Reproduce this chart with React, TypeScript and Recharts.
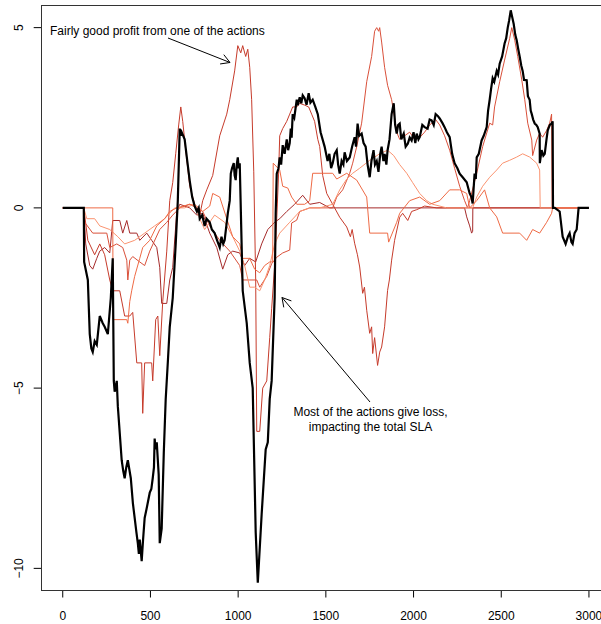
import React from "react";
import { LineChart, Line, XAxis, YAxis } from "recharts";

const X_TICKS = [0, 500, 1000, 1500, 2000, 2500, 3000];
const Y_TICKS = [-10, -5, 0, 5];

// total SLA (black)
const TOTAL: [number, number][] = [
  [0, 0], [120, 0], [122, -1.5], [143, -2.0], [154, -3.5], [163, -3.9], [171, -4.0], [182, -3.7], [194, -3.8],
  [211, -3.0], [228, -3.2], [239, -3.3], [257, -3.5], [274, -2.5], [285, -1.4], [291, -4.8], [296, -5.1],
  [308, -4.8], [314, -5.5], [336, -7.0], [345, -7.3], [353, -7.5], [362, -7.2], [371, -7.0], [388, -7.5],
  [400, -8.2], [410, -8.6], [420, -9.0], [428, -9.3], [434, -9.6], [439, -9.2], [450, -9.8], [458, -9.2],
  [467, -8.6], [480, -8.3], [496, -7.9], [505, -7.8], [513, -7.5], [520, -7.2], [524, -6.4], [530, -6.7],
  [536, -6.5], [547, -7.4], [553, -9.3], [564, -8.9], [576, -6.8], [587, -5.3], [600, -4.2], [610, -3.3],
  [627, -2.5], [644, -1.0], [656, 0.2], [667, 2.2], [673, 2.0], [678, 2.1], [695, 1.9], [710, 1.3],
  [724, 0.75], [738, 0.3], [752, 0.05], [765, -0.1], [775, 0.0], [781, -0.3], [795, -0.2], [809, -0.5],
  [820, -0.3], [838, -0.4], [850, -0.6], [866, -0.7], [880, -0.9], [895, -1.1], [905, -0.8], [915, -1.0],
  [923, -0.9], [941, -0.15], [952, 0.2], [958, 0.95], [965, 1.1], [975, 1.24], [980, 0.9], [986, 0.77],
  [992, 1.2], [998, 1.4], [1003, 1.1], [1009, 1.24], [1026, -2.3], [1049, -3.2], [1066, -4.3], [1083, -5.0],
  [1100, -9.0], [1112, -10.4], [1134, -8.5], [1157, -6.7], [1169, -6.5], [1180, -5.3], [1191, -4.8],
  [1208, -2.5], [1214, -0.15], [1220, 0.95], [1230, 1.1], [1237, 1.4], [1245, 1.2], [1254, 1.74],
  [1265, 1.5], [1277, 1.9], [1285, 1.6], [1294, 1.8], [1300, 2.2], [1305, 1.95], [1311, 2.6], [1320, 2.5],
  [1334, 3.0], [1340, 2.85], [1351, 3.07], [1360, 2.9], [1368, 3.12], [1379, 3.04], [1390, 2.86],
  [1402, 3.18], [1412, 2.92], [1425, 3.0], [1440, 2.8], [1454, 2.6], [1470, 2.1], [1493, 1.7],
  [1510, 1.3], [1520, 1.5], [1530, 1.1], [1539, 1.24], [1550, 1.5], [1562, 1.6], [1570, 1.2],
  [1579, 0.95], [1590, 1.3], [1600, 1.2], [1607, 1.54], [1620, 1.3], [1636, 1.4], [1650, 1.7],
  [1664, 1.96], [1672, 1.7], [1681, 2.34], [1690, 2.0], [1704, 2.06], [1715, 1.8], [1727, 1.7],
  [1738, 1.2], [1750, 0.85], [1760, 1.3], [1772, 1.6], [1780, 1.2], [1790, 1.3], [1800, 1.0],
  [1810, 1.5], [1818, 1.7], [1828, 1.3], [1835, 1.5], [1845, 1.2], [1852, 1.6], [1863, 1.9],
  [1875, 2.6], [1887, 2.9], [1895, 2.3], [1904, 2.06], [1912, 2.3], [1921, 2.34], [1930, 1.9],
  [1944, 2.06], [1955, 1.7], [1967, 1.78], [1978, 1.95], [1989, 1.87], [2000, 2.1], [2010, 1.8],
  [2018, 2.06], [2028, 1.9], [2035, 1.96], [2050, 2.3], [2063, 2.24], [2080, 2.2], [2092, 2.45],
  [2103, 2.43], [2115, 2.3], [2126, 2.6], [2138, 2.55], [2149, 2.48], [2165, 2.35], [2177, 2.24],
  [2190, 2.1], [2206, 1.96], [2220, 1.5], [2234, 1.24], [2250, 1.1], [2263, 0.95], [2280, 0.85],
  [2303, 0.71], [2320, 0.4], [2330, 0.3], [2337, 0.12], [2342, 0.5], [2348, 0.95], [2355, 0.8],
  [2360, 1.4], [2372, 1.5], [2388, 1.87], [2400, 2.0], [2417, 2.24], [2425, 2.7], [2434, 3.0],
  [2442, 3.3], [2451, 3.6], [2460, 3.5], [2474, 3.8], [2482, 3.7], [2491, 4.0], [2505, 4.2],
  [2519, 4.56], [2528, 4.7], [2537, 5.0], [2545, 5.2], [2554, 5.48], [2562, 5.3], [2571, 5.1],
  [2580, 4.8], [2588, 4.65], [2597, 4.4], [2605, 4.2], [2614, 3.95], [2622, 3.8], [2630, 3.55],
  [2645, 3.54], [2652, 3.1], [2662, 3.0], [2668, 2.7], [2674, 2.6], [2682, 2.45], [2691, 2.34],
  [2700, 2.3], [2708, 2.24], [2719, 2.06], [2720, 1.24], [2730, 1.6], [2740, 1.45], [2748, 1.5],
  [2758, 1.9], [2765, 2.15], [2777, 2.3], [2787, 2.34], [2793, 2.4], [2795, 0], [2805, 0], [2833, -0.1],
  [2850, -0.8], [2867, -1.0], [2880, -0.8], [2890, -0.7], [2900, -0.95], [2907, -1.0], [2918, -0.7],
  [2930, -0.6], [2941, 0], [3000, 0],
];

// individual actions
const ACTION_1: [number, number][] = [
  [0, 0], [120, 0], [131, -1.0], [154, -1.6], [171, -1.7], [194, -1.4], [211, -1.2], [239, -1.1],
  [268, -1.25], [285, -0.35], [325, -0.35], [342, -0.7], [365, -0.35], [382, -0.7], [422, -0.7],
  [439, -0.9], [479, -0.7], [507, -0.9], [536, -1.1], [553, -1.65], [564, -2.65], [593, -2.65],
  [610, -2.0], [627, -1.65], [650, -0.1], [667, 0.1], [724, 0], [764, -0.2], [798, -0.15], [838, -0.7],
  [878, -1.1], [912, -1.7], [941, -1.3], [969, -1.2], [1009, -1.25], [1037, -1.6], [1066, -1.4],
  [1100, -1.5], [1134, -1.0], [1169, -0.6], [1208, -0.4], [1237, -0.3], [1277, -0.1], [1322, 0.1],
  [1368, 0.35], [1408, 0.1], [1465, 0.15], [1522, 0], [2291, 0], [2303, -0.25], [2320, -0.5],
  [2331, -0.7], [2337, -0.65], [2338, 0], [3000, 0],
];

const ACTION_2: [number, number][] = [
  [0, 0], [120, 0], [143, -0.9], [182, -1.3], [211, -1.0], [239, -1.3], [268, -2.0], [285, -2.3],
  [325, -2.3], [353, -3.0], [382, -3.0], [399, -2.9], [422, -4.3], [450, -4.3], [456, -5.7], [467, -4.3],
  [507, -4.3], [513, -4.8], [530, -3.1], [542, -3.0], [553, -4.1], [570, -2.6], [593, -1.2], [610, 0.2],
  [627, 0.7], [644, 1.5], [661, 2.3], [673, 2.8], [684, 2.4], [701, 1.6], [724, 0.6], [752, 0.1],
  [781, -0.2], [798, 0.2], [821, 0.5], [855, 0.9], [895, 2.0], [935, 2.6], [952, 3.0], [980, 3.8],
  [998, 4.5], [1015, 4.3], [1026, 4.5], [1043, 4.2], [1055, 4.4], [1066, 3.9], [1077, 3.0], [1089, 1.0],
  [1100, -2.0], [1106, -6.2], [1123, -6.2], [1140, -5.0], [1163, -4.8], [1180, -3.6], [1191, -2.8],
  [1208, -1.6], [1220, -0.3], [1231, 1.0], [1237, 2.0], [1254, 2.2], [1277, 2.4], [1294, 2.6],
  [1311, 2.8], [1334, 2.8], [1351, 2.9], [1379, 2.85], [1402, 2.8], [1419, 2.6], [1436, 2.4],
  [1454, 1.9], [1465, 1.7], [1482, 0.9], [1505, 0.4], [1550, 0], [1579, -0.26], [1619, -0.53],
  [1640, -0.8], [1650, -0.6], [1664, -0.98], [1680, -1.3], [1693, -1.64], [1710, -2.37], [1720, -2.2],
  [1733, -2.84], [1750, -3.48], [1761, -3.3], [1767, -4.04], [1778, -3.6], [1795, -4.37], [1807, -4.0],
  [1818, -3.86], [1835, -3.3], [1852, -2.29], [1862, -2.0], [1875, -1.45], [1892, -0.9], [1921, -0.26],
  [1938, -0.15], [1967, -0.35], [1989, -0.1], [2018, -0.05], [2063, 0.05], [2132, 0], [3000, 0],
];

const ACTION_3: [number, number][] = [
  [0, 0], [120, 0], [125, -0.4], [171, -0.7], [251, -0.7], [268, -1.1], [308, -1.0], [342, -1.1],
  [365, -1.45], [371, -2.0], [382, -1.45], [399, -1.35], [439, -1.5], [467, -1.6], [496, -1.2],
  [553, -0.6], [593, -0.4], [627, -0.2], [667, 0], [724, 0.1], [764, 0], [798, -0.1], [838, -0.5],
  [895, -0.9], [952, -1.2], [1009, -1.6], [1026, -2.0], [1066, -2.0], [1106, -2.0], [1123, -2.2],
  [1163, -1.9], [1191, -1.55], [1220, -1.37], [1254, -1.25], [1294, -1.17], [1305, -0.42],
  [1334, -0.34], [1351, -0.1], [1408, 0], [1539, 0], [1562, 0.3], [1596, 0.5], [1636, 0.96],
  [1653, 1.24], [1676, 1.7], [1704, 2.35], [1733, 3.5], [1761, 4.2], [1778, 4.9], [1790, 5.0],
  [1801, 4.9], [1807, 5.0], [1818, 4.6], [1835, 3.9], [1852, 3.4], [1875, 3.0], [1892, 2.5],
  [1904, 2.1], [1921, 1.9], [1949, 2.0], [1978, 2.1], [2006, 1.9], [2035, 1.95], [2063, 2.1],
  [2092, 2.3], [2126, 2.45], [2149, 2.3], [2177, 2.0], [2206, 1.6], [2234, 1.1], [2263, 0.6],
  [2291, 0.2], [2308, 0], [2320, 0.2], [2360, 0.96], [2394, 1.7], [2434, 2.35], [2451, 2.3],
  [2462, 2.8], [2491, 3.5], [2519, 4.1], [2548, 4.7], [2560, 5.0], [2577, 4.65], [2594, 4.2],
  [2617, 3.55], [2634, 3.0], [2651, 2.35], [2674, 1.88], [2679, 1.45], [2702, 1.88], [2719, 2.07],
  [2736, 1.96], [2759, 2.15], [2776, 2.35], [2787, 2.6], [2790, 0], [3000, 0],
];

const ACTION_4: [number, number][] = [
  [0, 0], [285, 0], [287, -3.1], [365, -3.1], [371, -3.2], [382, -2.6], [393, -2.3], [410, -1.9],
  [439, -1.4], [456, -1.1], [496, -0.9], [536, -0.5], [581, -0.3], [610, -0.1], [650, 0], [724, 0.1],
  [764, 0.05], [798, -0.1], [838, 0.05], [855, 0.4], [895, 0.3], [935, -0.3], [969, -0.8], [1009, -1.0],
  [1026, -1.4], [1066, -1.4], [1094, -1.7], [1123, -1.8], [1151, -1.6], [1180, -1.5], [1197, -1.5],
  [1200, 1.24], [1237, 1.05], [1254, 0.6], [1283, 0.55], [1305, 0.3], [1334, 0.1], [1379, 0.1],
  [1408, 0.2], [1425, 0.96], [1539, 0.96], [1562, 0.8], [1619, 0.96], [1676, 0.77], [1733, 0.3],
  [1750, -0.7], [1852, -0.7], [1858, -0.95], [1904, -0.4], [1921, -0.15], [1978, 0.2], [2035, 0.3],
  [2092, 0.1], [2149, 0.2], [2206, 0.5], [2263, 0.5], [2303, 0.4], [2320, 0], [2360, 0.2], [2405, 0.5],
  [2434, 0], [2474, -0.25], [2508, -0.7], [2605, -0.7], [2645, -0.9], [2679, -0.6], [2719, -0.7],
  [2759, -0.4], [2787, -0.15], [2793, 0], [3000, 0],
];

const ACTION_5: [number, number][] = [
  [0, 0], [120, 0], [137, -0.3], [182, -0.3], [211, -0.5], [268, -0.6], [314, -0.8], [353, -1.0],
  [410, -0.9], [467, -0.7], [524, -0.5], [581, -0.3], [638, 0], [695, 0], [752, 0.1], [781, -0.3],
  [809, -0.6], [866, -0.2], [923, -0.4], [969, -0.8], [1009, -1.2], [1037, -1.6], [1066, -2.2],
  [1094, -2.2], [1123, -2.3], [1151, -2.0], [1180, -1.6], [1208, -1.0], [1237, -0.7], [1294, -0.4],
  [1351, -0.1], [1408, 0], [1465, 0], [1539, 0.1], [1579, 0.5], [1619, 0.8], [1653, 0.96], [1693, 1.1],
  [1750, 1.32], [1807, 1.5], [1852, 1.6], [1887, 1.45], [1921, 1.2], [1961, 0.96], [1995, 0.7],
  [2035, 0.4], [2075, 0.2], [2109, 0.1], [2189, 0], [2337, 0], [2360, 0.3], [2394, 0.6], [2434, 0.85],
  [2474, 1.05], [2508, 1.24], [2548, 1.32], [2588, 1.41], [2622, 1.5], [2662, 1.41], [2702, 1.24],
  [2719, 1.05], [2722, 0], [3000, 0],
];

// drawing order: last one sits on top along the zero line
const ACTIONS = [
  { id: "a1", color: "#A52A2A", pts: ACTION_1 },
  { id: "a2", color: "#C63B2B", pts: ACTION_2 },
  { id: "a3", color: "#D9503A", pts: ACTION_3 },
  { id: "a5", color: "#FA9370", pts: ACTION_5 },
  { id: "a4", color: "#EE6A45", pts: ACTION_4 },
];

const FONT = '"Liberation Sans", Arial, Helvetica, sans-serif';

const toRows = (pts: [number, number][]) => pts.map(([x, y]) => ({ x, y }));

const XTick = ({ x, payload }: any) => (
  <text x={x} y={619.5} textAnchor="middle" fontSize={12} fontFamily={FONT} fill="#000">
    {payload.value}
  </text>
);

const YTick = ({ y, payload }: any) => {
  const v = payload.value;
  const label = v < 0 ? "\u2212" + Math.abs(v) : String(v);
  return (
    <text x={23.5} y={y} transform={`rotate(-90, 23.5, ${y})`} textAnchor="middle" fontSize={12} fontFamily={FONT} fill="#000">
      {label}
    </text>
  );
};

// open arrowhead like R's arrows()
function Arrow({ x0, y0, x1, y1 }: { x0: number; y0: number; x1: number; y1: number }) {
  const a = Math.atan2(y1 - y0, x1 - x0);
  const len = 10;
  const p1 = [x1 - len * Math.cos(a - Math.PI / 6), y1 - len * Math.sin(a - Math.PI / 6)];
  const p2 = [x1 - len * Math.cos(a + Math.PI / 6), y1 - len * Math.sin(a + Math.PI / 6)];
  return (
    <g stroke="#000" strokeWidth={1} fill="none">
      <line x1={x0} y1={y0} x2={x1} y2={y1} />
      <polyline points={`${p1[0]},${p1[1]} ${x1},${y1} ${p2[0]},${p2[1]}`} />
    </g>
  );
}

export default function App() {
  return (
    <div style={{ position: "fixed", left: 0, top: 0, width: 601, height: 624, overflow: "hidden", background: "#fff" }}>
      <LineChart width={620} height={624} margin={{ top: 6, right: 10, bottom: 0, left: 0 }}>
        <XAxis
          type="number"
          dataKey="x"
          domain={[-120, 3120]}
          ticks={X_TICKS}
          interval={0}
          allowDataOverflow
          height={34}
          tickSize={7.5}
          axisLine={false}
          tickLine={{ stroke: "#000" }}
          tick={<XTick />}
        />
        <YAxis
          type="number"
          domain={[-10.6, 5.6]}
          ticks={Y_TICKS}
          interval={0}
          allowDataOverflow
          width={41.7}
          tickSize={8}
          axisLine={false}
          tickLine={{ stroke: "#000" }}
          tick={<YTick />}
        />
        {ACTIONS.map((s) => (
          <Line
            key={s.id}
            data={toRows(s.pts)}
            dataKey="y"
            type="linear"
            stroke={s.color}
            strokeWidth={1}
            dot={false}
            activeDot={false}
            isAnimationActive={false}
          />
        ))}
        <Line
          data={toRows(TOTAL)}
          dataKey="y"
          type="linear"
          stroke="#000"
          strokeWidth={2.2}
          dot={false}
          activeDot={false}
          isAnimationActive={false}
        />
      </LineChart>
      <svg width={601} height={624} style={{ position: "absolute", left: 0, top: 0, pointerEvents: "none" }}>
        <rect x={41.5} y={5.5} width={590} height={585} fill="none" stroke="#333" strokeWidth={1} />
        <text x={50} y={35} fontSize={12} fontFamily={FONT} fill="#000">
          Fairly good profit from one of the actions
        </text>
        <Arrow x0={168} y0={38} x1={230} y1={62.5} />
        <text x={370.5} y={416} textAnchor="middle" fontSize={12} fontFamily={FONT} fill="#000">
          Most of the actions give loss,
        </text>
        <text x={370.5} y={431} textAnchor="middle" fontSize={12} fontFamily={FONT} fill="#000">
          impacting the total SLA
        </text>
        <Arrow x0={370} y0={402} x1={282} y1={297.5} />
      </svg>
    </div>
  );
}
